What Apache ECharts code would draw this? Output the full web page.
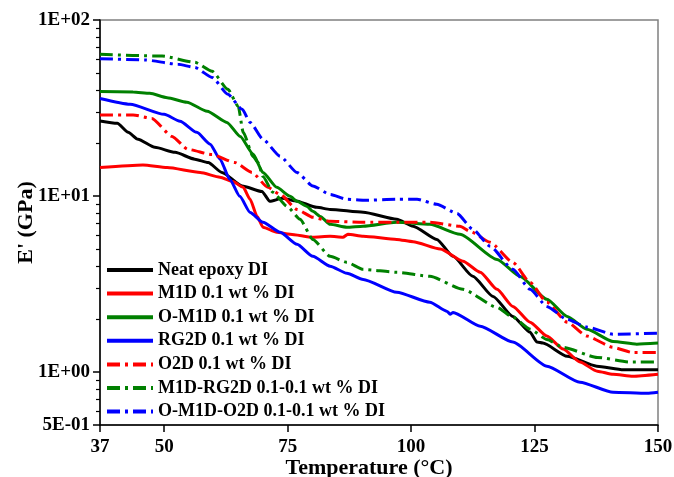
<!DOCTYPE html>
<html>
<head>
<meta charset="utf-8">
<script src="https://cdn.jsdelivr.net/npm/echarts@6/dist/echarts.min.js"></script>
<style>
html,body{margin:0;padding:0;background:#fff;}
#chart{width:674px;height:477px;}
</style>
</head>
<body>
<div id="chart"></div>
<script>
// ---- Data (Temperature in °C, storage modulus E' in GPa) ----
const seriesNames = [
  'Neat epoxy DI',
  'M1D 0.1 wt % DI',
  'O-M1D 0.1 wt % DI',
  'RG2D 0.1 wt % DI',
  'O2D 0.1 wt % DI',
  'M1D-RG2D 0.1-0.1 wt % DI',
  'O-M1D-O2D 0.1-0.1 wt % DI'
];

const neatT = [37, 40.5, 42.7, 44.7, 48.1, 52.2, 56.2, 58.9, 61.7, 65.8, 69.8, 71.4, 73.9, 76.5, 80.9, 83.6, 90.3, 97.1, 100.4, 105.2, 108.5, 112.5, 116.6, 120.6, 124.1, 125.5, 126.7, 131.6, 137.6, 143, 150];
const neatE = [26.7, 25.9, 23.0, 21.0, 18.9, 17.7, 16.2, 15.5, 13.6, 11.4, 10.6, 9.33, 9.7, 9.4, 8.63, 8.39, 8.08, 7.38, 6.73, 5.67, 4.54, 3.50, 2.69, 2.07, 1.68, 1.48, 1.46, 1.23, 1.08, 1.03, 1.03];

const m1dT = [37, 45.7, 50.6, 57.3, 61.3, 63.9, 66.0, 67.4, 68.8, 70.0, 72.8, 75.5, 80.1, 83.6, 86.2, 87.2, 90.3, 97.1, 100.4, 105.9, 110.5, 114, 117.4, 120.6, 124.1, 127.5, 130.8, 134.2, 137.7, 140.9, 144.9, 150];
const m1dE = [14.5, 15.0, 14.5, 13.6, 12.8, 12.1, 11.2, 9.58, 7.67, 6.65, 6.22, 6.07, 5.83, 5.9, 5.83, 6.07, 5.9, 5.67, 5.5, 5.0, 4.26, 3.69, 2.95, 2.36, 1.92, 1.60, 1.35, 1.14, 1.01, 0.97, 0.945, 0.97];

const om1dT = [37, 43.7, 47.1, 50.6, 54.6, 58.7, 62.7, 65.4, 68.0, 70.0, 72.8, 75.5, 76.9, 78.9, 80.1, 81.6, 83.6, 87.0, 90.3, 97.1, 103.8, 109.9, 117.4, 122.1, 127.5, 131.6, 135.6, 140.9, 145.7, 150];
const om1dE = [39.2, 39.0, 38.3, 36.2, 34.1, 30.3, 26.2, 21.8, 17.3, 13.6, 11.2, 9.96, 9.33, 8.73, 8.18, 7.66, 6.90, 6.64, 6.73, 7.09, 6.90, 6.06, 4.36, 3.49, 2.59, 2.07, 1.75, 1.49, 1.44, 1.46];

const rg2dT = [37, 43.1, 50.0, 53.2, 56.6, 59.3, 61.3, 63.3, 65.3, 67.4, 70.0, 73.5, 76.9, 80.1, 83.6, 87.0, 90.3, 97.1, 103.8, 107.3, 107.9, 108.5, 114.0, 120.6, 127.5, 134.2, 140.9, 147.8, 150];
const rg2dE = [35.8, 33.2, 29.1, 26.6, 23.0, 19.7, 16.2, 12.4, 9.96, 8.07, 7.09, 6.22, 5.32, 4.54, 3.99, 3.64, 3.36, 2.84, 2.49, 2.21, 2.13, 2.18, 1.82, 1.48, 1.08, 0.875, 0.767, 0.757, 0.767];

const o2dT = [37, 43.7, 47.5, 51.6, 54.8, 59.7, 64.3, 67.8, 71.0, 73.5, 76.9, 80.1, 83.6, 90.3, 97.1, 103.8, 109.9, 111.9, 116.0, 120.6, 124.1, 127.5, 131.6, 135.6, 140.9, 144.9, 150];
const o2dE = [28.9, 28.9, 27.6, 21.8, 18.4, 17.2, 15.5, 13.6, 11.2, 10.2, 8.39, 7.57, 7.18, 7.09, 7.09, 7.09, 6.73, 6.30, 5.46, 4.20, 3.23, 2.49, 1.92, 1.60, 1.38, 1.29, 1.29];

const m1drgT = [37, 49.6, 56.2, 59.7, 62.9, 65.0, 66.0, 68.0, 69.0, 70.0, 72.0, 74.9, 77.5, 80.1, 83.6, 87.0, 90.3, 97.1, 103.8, 110.5, 117.4, 120.6, 124.1, 127.5, 130.8, 137.7, 144.3, 150];
const m1drgE = [63.8, 62.4, 57.5, 51.1, 40.4, 32.3, 23.0, 16.8, 15.5, 12.9, 10.5, 8.73, 7.38, 5.67, 4.54, 4.20, 3.83, 3.69, 3.50, 2.95, 2.33, 2.05, 1.75, 1.53, 1.38, 1.21, 1.14, 1.14];

const om1do2dT = [37, 46.1, 52.8, 56.2, 59.7, 62.9, 65.8, 67.4, 70.0, 73.5, 76.9, 80.1, 83.6, 87.0, 90.3, 97.1, 101.2, 105.2, 109.3, 112.5, 116.0, 120.6, 124.1, 127.5, 131.6, 135.6, 140.9, 150];
const om1do2dE = [60.3, 59.3, 56.0, 53.8, 47.2, 37.8, 31.1, 26.2, 21.0, 16.8, 13.6, 11.4, 10.2, 9.58, 9.46, 9.58, 9.58, 8.97, 7.96, 6.47, 5.18, 3.83, 2.95, 2.36, 1.99, 1.80, 1.64, 1.66];

const xTicks = [37, 50, 75, 100, 125, 150];
const yTicks = [0.5, 1, 10, 100];
const yTickLabels = ['5E-01', '1E+00', '1E+01', '1E+02'];
const yMinorTicks = [0.6, 0.7, 0.8, 0.9, 2, 3, 4, 5, 6, 7, 8, 9, 20, 30, 40, 50, 60, 70, 80, 90];

// ---- Chart ----
const FONT = "'Liberation Serif', 'Times New Roman', serif";
const dashDot = [13, 5, 3, 5];
const colors = ['#000000', '#ff0000', '#008000', '#0000ff', '#ff0000', '#008000', '#0000ff'];
const types = ['solid', 'solid', 'solid', 'solid', dashDot, dashDot, dashDot];
const Ts = [neatT, m1dT, om1dT, rg2dT, o2dT, m1drgT, om1do2dT];
const Es = [neatE, m1dE, om1dE, rg2dE, o2dE, m1drgE, om1do2dE];

const series = seriesNames.map((name, k) => ({
  name: name,
  type: 'line',
  data: Ts[k].map((t, i) => [t, Es[k][i]]),
  symbol: 'none',
  showSymbol: false,
  smooth: 0.2,
  smoothMonotone: 'x',
  yAxisIndex: 0,
  color: colors[k],
  lineStyle: { color: colors[k], width: 3, type: types[k], cap: 'butt' },
  emphasis: { disabled: true },
  z: 3 + k
}));

const chart = echarts.init(document.getElementById('chart'), null, { renderer: 'canvas' });
chart.setOption({
  animation: false,
  backgroundColor: '#ffffff',
  grid: {
    left: 100, right: 16, top: 20, bottom: 52,
    outerBoundsMode: 'none',
    containLabel: false,
    show: true, borderColor: '#808080', borderWidth: 1.5, backgroundColor: 'transparent'
  },
  legend: {
    orient: 'vertical',
    left: 100,
    top: 256,
    itemWidth: 46,
    itemHeight: 14,
    itemGap: 5.6,
    selectedMode: false,
    data: seriesNames,
    itemStyle: { color: 'transparent', borderColor: 'transparent', borderWidth: 0, opacity: 0 },
    lineStyle: { width: 4, cap: 'butt' },
    textStyle: { fontFamily: FONT, fontWeight: 'bold', fontSize: 18, color: '#000', lineHeight: 18 }
  },
  xAxis: {
    type: 'value',
    min: 37, max: 150,
    name: 'Temperature (°C)',
    nameLocation: 'middle',
    nameGap: 32,
    nameMoveOverlap: false,
    nameTextStyle: { fontFamily: FONT, fontWeight: 'bold', fontSize: 22, color: '#000', padding: [0, 20, 0, 0] },
    axisLine: { show: true, onZero: false, lineStyle: { color: '#000', width: 1.5 } },
    axisTick: { show: true, inside: false, length: 7, customValues: xTicks, lineStyle: { color: '#000', width: 1.5 } },
    axisLabel: { customValues: xTicks, margin: 13, fontFamily: FONT, fontWeight: 'bold', fontSize: 19, color: '#000' },
    splitLine: { show: false }
  },
  yAxis: [{
    type: 'log',
    logBase: 10,
    min: 0.5, max: 100,
    name: "E' (GPa)",
    nameLocation: 'middle',
    nameGap: 63,
    nameMoveOverlap: false,
    nameTextStyle: { fontFamily: FONT, fontWeight: 'bold', fontSize: 22, color: '#000' },
    axisLine: { show: true, onZero: false, lineStyle: { color: '#000', width: 1.5 } },
    axisTick: { show: true, inside: false, length: 7, customValues: yTicks, lineStyle: { color: '#000', width: 1.5 } },
    axisLabel: {
      customValues: yTicks,
      margin: 10,
      fontFamily: FONT, fontWeight: 'bold', fontSize: 19, color: '#000',
      formatter: function (v) {
        let best = 0, bd = Infinity;
        yTicks.forEach((t, i) => { const d = Math.abs(Math.log10(v) - Math.log10(t)); if (d < bd) { bd = d; best = i; } });
        return yTickLabels[best];
      }
    },
    splitLine: { show: false },
    minorTick: { show: false }
  }, {
    type: 'log',
    logBase: 10,
    min: 0.5, max: 100,
    position: 'left',
    offset: 0,
    axisLine: { show: false },
    axisTick: { show: true, inside: false, length: 4, customValues: yMinorTicks, lineStyle: { color: '#000', width: 1.2 } },
    axisLabel: { show: false },
    splitLine: { show: false }
  }],
  series: series
});
</script>
</body>
</html>
